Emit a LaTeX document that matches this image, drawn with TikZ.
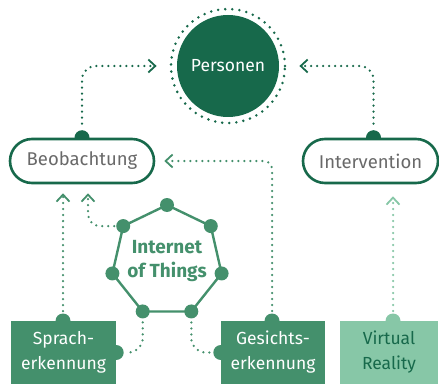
\documentclass[tikz,border=0pt]{standalone}
\usepackage{fontspec}
\setmainfont{Fira Sans}
\usetikzlibrary{arrows.meta,backgrounds,calc}
\definecolor{gdark}{RGB}{23,105,75}
\definecolor{gmid}{RGB}{68,144,108}
\definecolor{glight}{RGB}{135,199,167}
\definecolor{tgray}{RGB}{105,105,105}
\tikzset{
  dotline/.style={line width=2.5pt, line cap=round, dash pattern=on 0pt off 6pt},
  chev/.style={-{Straight Barb[length=7pt,width=13pt,line width=1.8pt]}},
  pill/.style={draw=gdark, line width=2.6pt, fill=white, rounded corners=22pt, minimum height=44pt, inner sep=0pt, text=tgray, font=\fontsize{18.5}{20}\selectfont},
  boxm/.style={fill=gmid, text=white, minimum height=63pt, inner sep=0pt, align=center, font=\fontsize{17.5}{25}\selectfont},
  boxl/.style={fill=glight, text=gdark, minimum height=63pt, inner sep=0pt, align=center, font=\fontsize{17.5}{25}\selectfont},
  vdot/.style={circle, fill=gmid, minimum size=14pt, inner sep=0pt},
}
\begin{document}
\begin{tikzpicture}[x=1pt,y=-1pt]
\useasboundingbox (0,0) rectangle (439,385);
% Personen
\node[circle, fill=gdark, minimum size=102pt, inner sep=0pt, text=white, font=\fontsize{17.5}{20}\selectfont] (pers) at (228,66) {Personen};
\node[circle, draw=gdark, minimum size=114pt, inner sep=0pt, line width=2.8pt, line cap=round, dash pattern=on 0pt off 7.1pt] (ring) at (228,66) {};
% pills
\node[pill, minimum width=144pt] (beo) at (82,161) {Beobachtung};
\node[pill, minimum width=135pt] (int) at (370.5,161) {Intervention};
\begin{scope}[on background layer]
  \fill[gdark] (beo.north) circle (7.5pt);
  \fill[gdark] ($(int.north)+(3,0)$) circle (7.5pt);
\end{scope}
% bottom boxes
\node[boxm, minimum width=105pt] (spr) at (63.5,352.5) {Sprach-\\erkennung};
\node[boxm, minimum width=104pt] (ges) at (273,352.5) {Gesichts-\\erkennung};
\node[boxl, minimum width=98pt] (vr) at (389,352.5) {Virtual\\Reality};
\coordinate (sprtop) at (63,321);
\coordinate (gestop) at (272,321);
\coordinate (vrtop) at (393,321);
\begin{scope}[on background layer]
  \fill[gmid] (sprtop) circle (7.5pt);
  \fill[gmid] (spr.east) circle (7.5pt);
  \fill[gmid] (gestop) circle (7.5pt);
  \fill[gmid] (ges.west) circle (7.5pt);
  \fill[glight] (vrtop) circle (7.5pt);
\end{scope}
% heptagon
\coordinate (hc) at (167,261);
\foreach \k in {0,...,6} {
  \node[vdot] (v\k) at ($(hc)+({-90+\k*360/7}:56)$) {};
}
\begin{scope}[on background layer]
  \draw[gmid, line width=2.4pt] (v0.center) -- (v1.center) -- (v2.center) -- (v3.center) -- (v4.center) -- (v5.center) -- (v6.center) -- cycle;
\end{scope}
\node[text=gmid, align=center, font=\bfseries\fontsize{19}{24}\selectfont] (iot) at (167,261) {Internet\\of Things};
% connectors to Personen
\draw[gdark, dotline, chev, rounded corners=14pt, shorten <=14pt, shorten >=13pt] (beo.north) |- (ring.west);
\draw[gdark, dotline, chev, rounded corners=14pt, shorten <=14pt, shorten >=13pt] ($(int.north)+(3,0)$) |- (ring.east);
% connectors to Beobachtung
\draw[gmid, dotline, chev, shorten <=10pt, shorten >=9pt] (sprtop) -- (sprtop |- beo.south);
\draw[gmid, dotline, chev, rounded corners=12pt, shorten <=9pt, shorten >=9pt] (v6.center) -| ($(beo.south)+(6,0)$);
\draw[gmid, dotline, chev, rounded corners=8pt, shorten <=10pt, shorten >=9pt] (gestop) |- (beo.east);
% VR to Intervention
\draw[glight, dotline, chev, shorten <=10pt, shorten >=12pt] (vrtop) -- (vrtop |- int.south);
% IoT to boxes
\draw[gmid, dotline, rounded corners=14pt, shorten <=11pt, shorten >=10pt] (v4.center) |- (spr.east);
\draw[gmid, dotline, rounded corners=14pt, shorten <=11pt, shorten >=10pt] (v3.center) |- (ges.west);
\end{tikzpicture}
\end{document}
